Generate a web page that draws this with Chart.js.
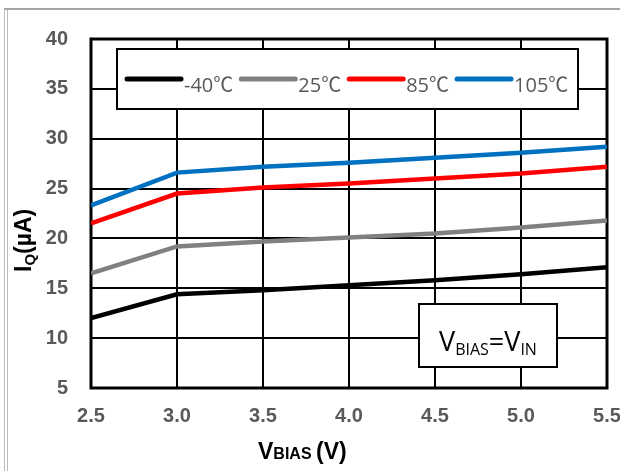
<!DOCTYPE html>
<html>
<head>
<meta charset="utf-8">
<script src="https://cdn.jsdelivr.net/npm/chart.js@4"></script>
<style>
  html, body { margin: 0; padding: 0; background: #fff; }
  #wrap { width: 620px; height: 471px; }
</style>
</head>
<body>
<div id="wrap"><canvas id="myChart" width="620" height="471"></canvas></div>
<script>
// data
const vbias = [2.5, 3.0, 3.5, 4.0, 4.5, 5.0, 5.5];
const iqM40 = [12.0, 14.4, 14.8, 15.3, 15.8, 16.4, 17.1];
const iq25 = [16.5, 19.2, 19.7, 20.1, 20.5, 21.1, 21.8];
const iq85 = [21.5, 24.5, 25.1, 25.5, 26.0, 26.5, 27.2];
const iq105 = [23.3, 26.6, 27.2, 27.6, 28.1, 28.6, 29.2];
const seriesNames = ['-40℃', '25℃', '85℃', '105℃'];
const seriesColors = ['#000000', '#808080', '#ff0000', '#0070c0'];

const tickGray = '#595959';
const labelFont = '"Open Sans", "Noto Sans CJK SC", sans-serif';

function toPoints(ys) {
  return vbias.map((x, i) => ({ x: x, y: ys[i] }));
}

const datasets = [iqM40, iq25, iq85, iq105].map((ys, i) => ({
  label: seriesNames[i],
  data: toPoints(ys),
  borderColor: seriesColors[i],
  backgroundColor: seriesColors[i],
  borderWidth: 4.5,
  pointRadius: 0,
  tension: 0,
  fill: false
}));

// frame, plot border, legend box, note box and axis titles
const decor = {
  id: 'decor',
  beforeDraw(chart) {
    const c = chart.ctx;
    c.save();
    c.fillStyle = '#fff';
    c.fillRect(0, 0, chart.width, chart.height);
    c.strokeStyle = '#a6a6a6';
    c.lineWidth = 2;
    c.beginPath();
    c.moveTo(4, 9); c.lineTo(chart.width, 9);
    c.stroke();
    c.lineWidth = 1;
    c.strokeStyle = '#bdbdbd';
    c.beginPath();
    c.moveTo(4.5, 9); c.lineTo(4.5, chart.height);
    c.moveTo(7.5, 10); c.lineTo(7.5, chart.height);
    c.stroke();
    c.restore();
  },
  beforeDatasetsDraw(chart) {
    const a = chart.chartArea, c = chart.ctx;
    c.save();
    c.strokeStyle = '#000';
    c.lineWidth = 3;
    c.strokeRect(a.left, a.top, a.right - a.left, a.bottom - a.top);
    c.restore();
  },
  afterDatasetsDraw(chart) {
    const c = chart.ctx;
    c.save();
    // legend box
    const lx = 117, ly = 49, lw = 461, lh = 60;
    c.fillStyle = '#fff';
    c.fillRect(lx, ly, lw, lh);
    c.strokeStyle = '#000';
    c.lineWidth = 2;
    c.strokeRect(lx, ly, lw, lh);
    c.font = '20px ' + labelFont;
    c.textBaseline = 'alphabetic';
    let x = lx + 10;
    seriesNames.forEach((name, i) => {
      c.strokeStyle = seriesColors[i];
      c.lineWidth = 5;
      c.lineCap = 'round';
      c.beginPath();
      c.moveTo(x, 79); c.lineTo(x + 54, 79);
      c.stroke();
      x += 57;
      c.fillStyle = tickGray;
      c.fillText(name, x, 92);
      x += c.measureText(name).width + 8;
    });

    // V_BIAS = V_IN note
    const bx = 419, by = 304, bw = 138, bh = 63;
    c.fillStyle = '#fff';
    c.fillRect(bx, by, bw, bh);
    c.strokeStyle = '#000';
    c.lineWidth = 2;
    c.strokeRect(bx, by, bw, bh);
    const parts = [['V', 27], ['BIAS', 16], ['=V', 27], ['IN', 16]];
    let total = 0;
    parts.forEach(p => { c.font = p[1] + 'px ' + labelFont; total += c.measureText(p[0]).width; });
    let tx = bx + bw / 2 - total / 2;
    c.fillStyle = '#000';
    parts.forEach(p => {
      c.font = p[1] + 'px ' + labelFont;
      c.fillText(p[0], tx, p[1] > 20 ? 351 : 355);
      tx += c.measureText(p[0]).width;
    });
    c.restore();
  },
  afterDraw(chart) {
    const c = chart.ctx;
    c.save();
    c.fillStyle = '#000';
    c.textBaseline = 'alphabetic';
    // x title
    const xt = [['V', 'bold 23px "Liberation Sans", Arial'], ['BIAS ', 'bold 16px "Liberation Sans", Arial'], ['(V)', 'bold 23px "Liberation Sans", Arial']];
    let tx = 258;
    xt.forEach(p => {
      c.font = p[1];
      c.fillText(p[0], tx, 459);
      tx += c.measureText(p[0]).width;
    });
    // y title, rotated
    c.translate(31, 272);
    c.rotate(-Math.PI / 2);
    const yt = [['I', 'bold 23px "Liberation Sans", Arial', 0], ['Q', 'bold 15px "Liberation Sans", Arial', 4], ['(µA)', 'bold 23px "Liberation Sans", Arial', 0]];
    let ty = 0;
    yt.forEach(p => {
      c.font = p[1];
      c.fillText(p[0], ty, p[2]);
      ty += c.measureText(p[0]).width;
    });
    c.restore();
  }
};

new Chart(document.getElementById('myChart'), {
  type: 'line',
  data: { datasets: datasets },
  plugins: [decor],
  options: {
    responsive: false,
    animation: false,
    devicePixelRatio: 1,
    layout: { padding: { top: 39, right: 13, left: 0, bottom: 0 } },
    plugins: { legend: { display: false }, tooltip: { enabled: false } },
    scales: {
      x: {
        type: 'linear',
        min: 2.5,
        max: 5.5,
        ticks: {
          stepSize: 0.5,
          padding: 16,
          color: tickGray,
          font: { family: '"Liberation Sans", Arial', size: 20, weight: 'bold' },
          callback: v => v.toFixed(1),
          maxRotation: 0
        },
        grid: { color: '#000', lineWidth: 2, drawTicks: false },
        border: { display: false },
        afterFit(scale) { scale.height = 83; scale.paddingLeft = 0; scale.paddingRight = 0; }
      },
      y: {
        min: 5,
        max: 40,
        ticks: {
          stepSize: 5,
          padding: 23,
          color: tickGray,
          font: { family: '"Liberation Sans", Arial', size: 20, weight: 'bold' }
        },
        grid: { color: '#000', lineWidth: 2, drawTicks: false },
        border: { display: false },
        afterFit(scale) { scale.width = 91; scale.paddingTop = 0; scale.paddingBottom = 0; }
      }
    }
  }
});
</script>
</body>
</html>
